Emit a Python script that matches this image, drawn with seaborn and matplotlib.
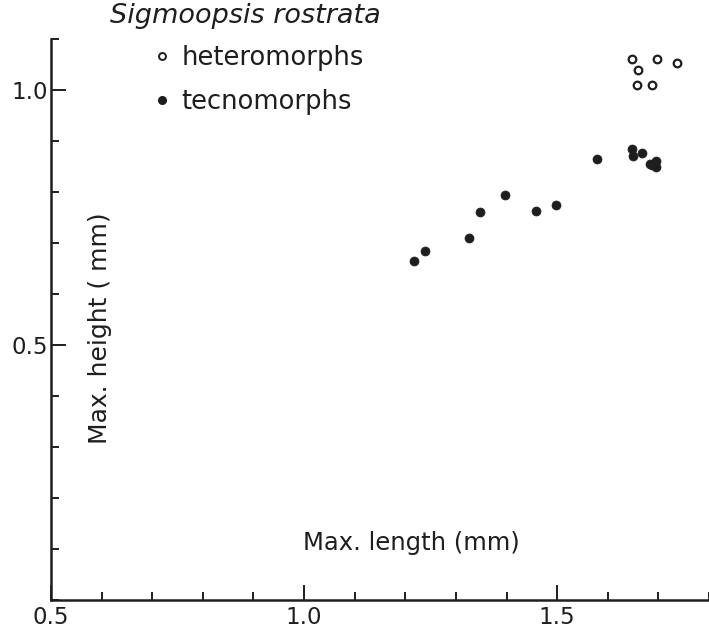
import matplotlib
matplotlib.use("Agg")
import matplotlib.pyplot as plt
import seaborn as sns
import pandas as pd
from matplotlib.ticker import MultipleLocator, FixedLocator
from matplotlib.lines import Line2D

# heteromorphs (open circles)
het_length = [1.647, 1.697, 1.737, 1.659, 1.657, 1.687]
het_height = [1.061, 1.060, 1.052, 1.040, 1.010, 1.010]

# tecnomorphs (filled dots)
tec_length = [1.218, 1.238, 1.326, 1.348, 1.397, 1.458, 1.498, 1.579,
              1.648, 1.649, 1.668, 1.683, 1.695, 1.695, 1.688]
tec_height = [0.665, 0.684, 0.710, 0.761, 0.794, 0.763, 0.775, 0.865,
              0.884, 0.870, 0.876, 0.854, 0.861, 0.849, 0.852]

het = pd.DataFrame({"length": het_length, "height": het_height})
tec = pd.DataFrame({"length": tec_length, "height": tec_height})

sns.set_style("ticks")
plt.rcParams["font.family"] = ["DejaVu Sans"]
ink = "#1e1e1e"

fig = plt.figure(figsize=(7.09, 6.32), dpi=100)
ax = fig.add_axes([51 / 709, 1 - 600 / 632, 658 / 709, 561 / 632])

sns.scatterplot(data=tec, x="length", y="height", ax=ax, marker="o",
                s=42, color=ink, edgecolor=ink, linewidth=0.5)
sns.scatterplot(data=het, x="length", y="height", ax=ax, marker="o",
                s=30, facecolor="white", edgecolor=ink, linewidth=1.6)

ax.set_xlim(0.5, 1.8)
ax.set_ylim(0.0, 1.1)
ax.set_xlabel("")
ax.set_ylabel("")

# ticks pointing inward, long ones labelled
ax.xaxis.set_major_locator(FixedLocator([0.5, 1.0, 1.5]))
ax.xaxis.set_minor_locator(MultipleLocator(0.1))
ax.yaxis.set_major_locator(FixedLocator([0.5, 1.0]))
ax.yaxis.set_minor_locator(MultipleLocator(0.1))
ax.set_xticklabels(["0.5", "1.0", "1.5"])
ax.set_yticklabels(["0.5", "1.0"])
ax.tick_params(which="major", direction="in", length=11, width=1.4,
               color=ink, labelsize=16.5, labelcolor=ink)
ax.tick_params(axis="x", which="major", pad=4)
ax.tick_params(axis="y", which="major", pad=2)
ax.tick_params(which="minor", direction="in", length=6, width=1.4, color=ink)

sns.despine(ax=ax)
for side in ["left", "bottom"]:
    ax.spines[side].set_linewidth(1.8)
    ax.spines[side].set_color(ink)

ax.text(0.547, 0.102, "Max. length (mm)", transform=ax.transAxes,
        ha="center", va="center", fontsize=17.5, color=ink)
ax.text(0.0745, 0.485, "Max. height ( mm)", transform=ax.transAxes,
        ha="center", va="center", rotation=90, fontsize=18, color=ink)

fig.text(110 / 709, 1 - 16 / 632, "Sigmoopsis rostrata", ha="left",
         va="center", fontsize=19.5, style="italic", color=ink)

handles = [
    Line2D([], [], linestyle="none", marker="o", markersize=5,
           markerfacecolor="white", markeredgecolor=ink, markeredgewidth=1.4),
    Line2D([], [], linestyle="none", marker="o", markersize=5.5,
           markerfacecolor=ink, markeredgecolor=ink),
]
fig.legend(handles, ["heteromorphs", "tecnomorphs"], loc="upper left",
           bbox_to_anchor=(152 / 709, 1 - 45 / 632), frameon=False,
           fontsize=18.5, handlelength=0.8, handletextpad=0.35,
           labelspacing=0.7, borderaxespad=0, borderpad=0,
           labelcolor=ink)

fig.savefig("out.png", dpi=100, facecolor="white")
